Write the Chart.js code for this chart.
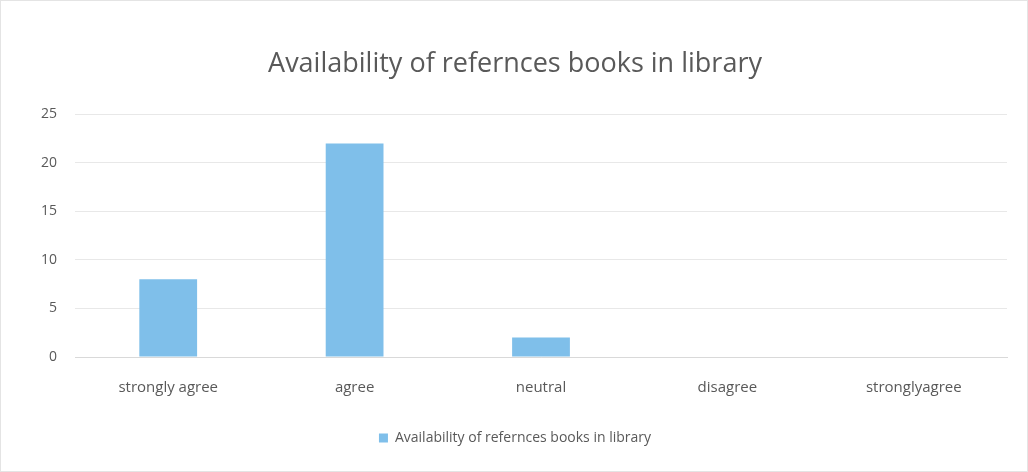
<!DOCTYPE html>
<html>
<head>
<meta charset="utf-8">
<script src="https://cdn.jsdelivr.net/npm/chart.js@4"></script>
<style>
  html, body { margin: 0; padding: 0; background: #fff; }
  #wrap { position: relative; width: 1028px; height: 472px; box-sizing: border-box; border: 1px solid #e4e4e4; }
</style>
</head>
<body>
<div id="wrap"><canvas id="tabla"></canvas></div>
<script>
// datos del grafico
var categorias = ['strongly agree', 'agree', 'neutral', 'disagree', 'stronglyagree'];
var valores = [8, 22, 2, 0, 0];
var serie = 'Availability of refernces books in library';
var titulo = 'Availability of refernces books in library';

const ctx = document.getElementById('tabla').getContext('2d');

var miGrafico = new Chart(ctx, {
    type: 'bar',
    data: {
        labels: categorias,
        datasets: [{
            label: serie,
            data: valores,
            backgroundColor: '#7fbfea',
            borderWidth: 0,
            barPercentage: 0.62,
            categoryPercentage: 0.5
        }]
    },
    options: {
        responsive: true,
        maintainAspectRatio: false,
        animation: false,
        layout: { padding: { left: 22, right: 20, top: 47, bottom: 16 } },
        plugins: {
            title: {
                display: true,
                text: titulo,
                color: '#595959',
                font: { family: 'Open Sans', size: 27, weight: 'normal' },
                padding: { top: 0, bottom: 34 }
            },
            legend: {
                position: 'bottom',
                labels: {
                    color: '#595959',
                    font: { family: 'Open Sans', size: 14 },
                    boxWidth: 9,
                    boxHeight: 9,
                    padding: 20
                }
            },
            tooltip: { enabled: false }
        },
        scales: {
            y: {
                min: 0,
                max: 25,
                ticks: {
                    stepSize: 5,
                    color: '#595959',
                    font: { family: 'Open Sans', size: 14 },
                    padding: 18
                },
                grid: { color: '#e8e8e8', drawTicks: false },
                border: { display: false }
            },
            x: {
                ticks: {
                    color: '#595959',
                    font: { family: 'Open Sans', size: 15 },
                    padding: 14
                },
                grid: { display: false },
                border: { color: '#d9d9d9' }
            }
        }
    }
});
</script>
</body>
</html>
